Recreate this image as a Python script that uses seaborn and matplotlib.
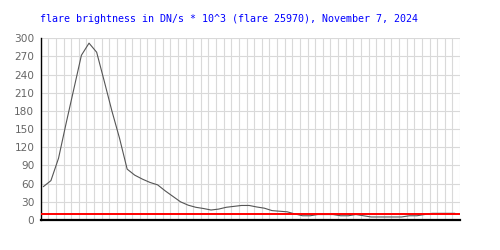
import numpy as np
import pandas as pd
import matplotlib
matplotlib.use("Agg")
import matplotlib.pyplot as plt
import seaborn as sns

# ---- data ----
title_text = "flare brightness in DN/s * 10^3 (flare 25970), November 7, 2024"
brightness = [55, 65, 102, 160, 216, 272, 292, 277, 229, 180,
              135, 84, 74, 67.5, 62, 58, 48, 39, 30, 24.5,
              21, 19, 16.5, 18, 21, 22.5, 24, 24, 21.5, 19.5,
              15.5, 14.5, 13.5, 10, 7, 7, 9, 9, 9, 7,
              7, 9, 7, 5, 5, 5, 5, 5, 7, 7,
              9, 11, 11, 11, 11]
threshold = 9.5
y_ticks = [0, 30, 60, 90, 120, 150, 180, 210, 240, 270, 300]

df = pd.DataFrame({"t": np.arange(len(brightness)), "v": brightness})

sns.set_style("white")
plt.rcParams["font.family"] = ["DejaVu Sans"]

fig = plt.figure(figsize=(5, 2.5), dpi=100)
ax = fig.add_axes([40.7 / 500, 1 - 220 / 250, (460 - 40.7) / 500, (220 - 38.3) / 250])

sns.lineplot(data=df, x="t", y="v", ax=ax, color="#555555", linewidth=0.8, zorder=3)
ax.axhline(threshold, color="#ff0000", linewidth=1.4, zorder=4)

# grid: one vertical line per sample column, horizontal every 30
offset = 0.34
n_cols = len(brightness)
ax.set_xlim(-offset, n_cols - offset)
ax.set_xticks(np.arange(n_cols + 1) - offset)
ax.set_xticklabels([])
ax.set_ylim(0, 300)
ax.set_yticks(y_ticks)
ax.set_yticklabels([str(t) for t in y_ticks])
ax.grid(True, color="#d9d9d9", linewidth=0.8, zorder=0)
ax.set_axisbelow(True)
ax.tick_params(axis="both", length=0)
ax.tick_params(axis="y", pad=4.5, labelsize=7.6, labelcolor="#666666")
ax.set_xlabel("")
ax.set_ylabel("")

for s in ["top", "right"]:
    ax.spines[s].set_visible(False)
ax.spines["left"].set_color("black")
ax.spines["left"].set_linewidth(1.0)
ax.spines["bottom"].set_color("black")
ax.spines["bottom"].set_linewidth(1.6)

fig.text(40 / 500, 1 - 19.5 / 250, title_text, color="#0000ff",
         fontsize=7.23, family=["DejaVu Sans Mono"], ha="left", va="center")

fig.savefig("out.png", dpi=100, facecolor="white")
